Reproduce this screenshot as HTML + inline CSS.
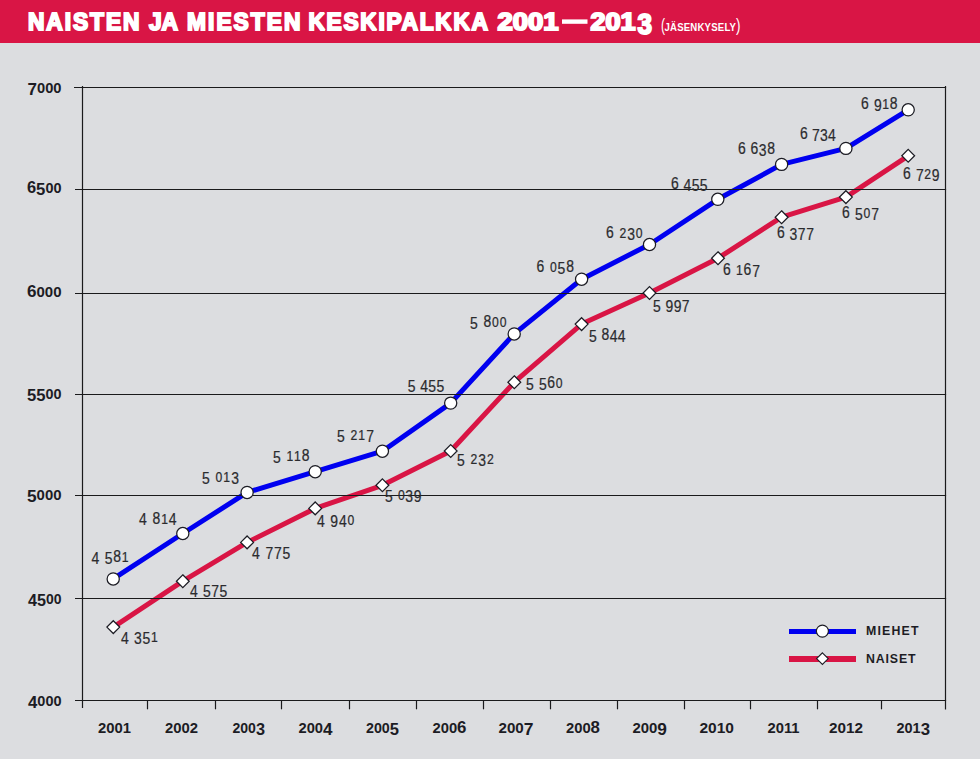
<!DOCTYPE html><html><head><meta charset="utf-8"><style>
html,body{margin:0;padding:0;width:980px;height:759px;overflow:hidden;background:#dcdde0;}
svg{position:absolute;left:0;top:0;}text{font-family:"Liberation Sans",sans-serif;}
</style></head><body>
<svg width="980" height="759" viewBox="0 0 980 759">
<rect x="0" y="0" width="980" height="43" fill="#d91545"/>
<line x1="562" y1="21.6" x2="587.5" y2="21.6" stroke="#fff" stroke-width="4.4"/>
<polyline fill="none" stroke="#d91545" stroke-width="5" stroke-linejoin="round" points="113.3,627.1 182.8,581.2 247.1,542.4 315.2,508.4 382.4,485.3 450.7,451.0 514.3,382.2 581.6,324.1 649.5,293.0 718.0,258.2 781.6,217.2 845.9,197.1 908.2,155.8"/>
<polyline fill="none" stroke="#0000f0" stroke-width="5" stroke-linejoin="round" points="113.2,578.9 182.8,533.5 247.1,492.4 315.2,471.7 382.4,451.2 450.7,403.1 514.2,333.9 581.6,279.2 649.5,244.5 717.8,199.3 781.6,164.4 845.9,148.4 908.2,109.8"/>
<line x1="74.0" y1="87.5" x2="946.1" y2="87.5" stroke="#1a1a1c" stroke-width="1.2"/>
<line x1="75.0" y1="189.5" x2="946.1" y2="189.5" stroke="#1a1a1c" stroke-width="1.2"/>
<line x1="75.0" y1="293.5" x2="946.1" y2="293.5" stroke="#1a1a1c" stroke-width="1.2"/>
<line x1="75.0" y1="394.5" x2="946.1" y2="394.5" stroke="#1a1a1c" stroke-width="1.2"/>
<line x1="75.0" y1="495.5" x2="946.1" y2="495.5" stroke="#1a1a1c" stroke-width="1.2"/>
<line x1="75.0" y1="598.5" x2="946.1" y2="598.5" stroke="#1a1a1c" stroke-width="1.2"/>
<line x1="75.0" y1="700.5" x2="946.1" y2="700.5" stroke="#1a1a1c" stroke-width="1.2"/>
<line x1="82.5" y1="86" x2="82.5" y2="708" stroke="#1a1a1c" stroke-width="1.2"/>
<line x1="945.5" y1="86" x2="945.5" y2="709.5" stroke="#1a1a1c" stroke-width="1.2"/>
<line x1="147.5" y1="700" x2="147.5" y2="709.3" stroke="#1a1a1c" stroke-width="1.2"/>
<line x1="215.5" y1="700" x2="215.5" y2="709.3" stroke="#1a1a1c" stroke-width="1.2"/>
<line x1="281.5" y1="700" x2="281.5" y2="709.3" stroke="#1a1a1c" stroke-width="1.2"/>
<line x1="349.5" y1="700" x2="349.5" y2="709.3" stroke="#1a1a1c" stroke-width="1.2"/>
<line x1="416.5" y1="700" x2="416.5" y2="709.3" stroke="#1a1a1c" stroke-width="1.2"/>
<line x1="483.5" y1="700" x2="483.5" y2="709.3" stroke="#1a1a1c" stroke-width="1.2"/>
<line x1="550.5" y1="700" x2="550.5" y2="709.3" stroke="#1a1a1c" stroke-width="1.2"/>
<line x1="617.5" y1="700" x2="617.5" y2="709.3" stroke="#1a1a1c" stroke-width="1.2"/>
<line x1="684.5" y1="700" x2="684.5" y2="709.3" stroke="#1a1a1c" stroke-width="1.2"/>
<line x1="750.5" y1="700" x2="750.5" y2="709.3" stroke="#1a1a1c" stroke-width="1.2"/>
<line x1="817.5" y1="700" x2="817.5" y2="709.3" stroke="#1a1a1c" stroke-width="1.2"/>
<line x1="881.5" y1="700" x2="881.5" y2="709.3" stroke="#1a1a1c" stroke-width="1.2"/>
<circle cx="113.2" cy="578.9" r="6.1" fill="#fff" stroke="#1c1c24" stroke-width="1.25"/>
<circle cx="182.8" cy="533.5" r="6.1" fill="#fff" stroke="#1c1c24" stroke-width="1.25"/>
<circle cx="247.1" cy="492.4" r="6.1" fill="#fff" stroke="#1c1c24" stroke-width="1.25"/>
<circle cx="315.2" cy="471.7" r="6.1" fill="#fff" stroke="#1c1c24" stroke-width="1.25"/>
<circle cx="382.4" cy="451.2" r="6.1" fill="#fff" stroke="#1c1c24" stroke-width="1.25"/>
<circle cx="450.7" cy="403.1" r="6.1" fill="#fff" stroke="#1c1c24" stroke-width="1.25"/>
<circle cx="514.2" cy="333.9" r="6.1" fill="#fff" stroke="#1c1c24" stroke-width="1.25"/>
<circle cx="581.6" cy="279.2" r="6.1" fill="#fff" stroke="#1c1c24" stroke-width="1.25"/>
<circle cx="649.5" cy="244.5" r="6.1" fill="#fff" stroke="#1c1c24" stroke-width="1.25"/>
<circle cx="717.8" cy="199.3" r="6.1" fill="#fff" stroke="#1c1c24" stroke-width="1.25"/>
<circle cx="781.6" cy="164.4" r="6.1" fill="#fff" stroke="#1c1c24" stroke-width="1.25"/>
<circle cx="845.9" cy="148.4" r="6.1" fill="#fff" stroke="#1c1c24" stroke-width="1.25"/>
<circle cx="908.2" cy="109.8" r="6.1" fill="#fff" stroke="#1c1c24" stroke-width="1.25"/>
<path d="M113.3 620.7L119.7 627.1L113.3 633.5L106.9 627.1Z" fill="#fff" stroke="#1c1c24" stroke-width="1.25"/>
<path d="M182.8 574.8L189.2 581.2L182.8 587.6L176.4 581.2Z" fill="#fff" stroke="#1c1c24" stroke-width="1.25"/>
<path d="M247.1 536.0L253.5 542.4L247.1 548.8L240.7 542.4Z" fill="#fff" stroke="#1c1c24" stroke-width="1.25"/>
<path d="M315.2 502.0L321.6 508.4L315.2 514.8L308.8 508.4Z" fill="#fff" stroke="#1c1c24" stroke-width="1.25"/>
<path d="M382.4 478.9L388.8 485.3L382.4 491.7L376.0 485.3Z" fill="#fff" stroke="#1c1c24" stroke-width="1.25"/>
<path d="M450.7 444.6L457.1 451.0L450.7 457.4L444.3 451.0Z" fill="#fff" stroke="#1c1c24" stroke-width="1.25"/>
<path d="M514.3 375.8L520.7 382.2L514.3 388.6L507.9 382.2Z" fill="#fff" stroke="#1c1c24" stroke-width="1.25"/>
<path d="M581.6 317.7L588.0 324.1L581.6 330.5L575.2 324.1Z" fill="#fff" stroke="#1c1c24" stroke-width="1.25"/>
<path d="M649.5 286.6L655.9 293.0L649.5 299.4L643.1 293.0Z" fill="#fff" stroke="#1c1c24" stroke-width="1.25"/>
<path d="M718.0 251.8L724.4 258.2L718.0 264.6L711.6 258.2Z" fill="#fff" stroke="#1c1c24" stroke-width="1.25"/>
<path d="M781.6 210.8L788.0 217.2L781.6 223.6L775.2 217.2Z" fill="#fff" stroke="#1c1c24" stroke-width="1.25"/>
<path d="M845.9 190.7L852.3 197.1L845.9 203.5L839.5 197.1Z" fill="#fff" stroke="#1c1c24" stroke-width="1.25"/>
<path d="M908.2 149.4L914.6 155.8L908.2 162.2L901.8 155.8Z" fill="#fff" stroke="#1c1c24" stroke-width="1.25"/>
<line x1="789" y1="631.5" x2="856" y2="631.5" stroke="#0000f0" stroke-width="5"/>
<circle cx="822.4" cy="631.1" r="6.0" fill="#fff" stroke="#1c1c24" stroke-width="1.1"/>
<line x1="789" y1="659" x2="856" y2="659" stroke="#d91545" stroke-width="6"/>
<path d="M822.4 652.8L828.2 658.6L822.4 664.4L816.6 658.6Z" fill="#fff" stroke="#1c1c24" stroke-width="1.1"/>
<text transform="scale(0.930 1)" x="30.11" y="30.00" font-size="24.50" font-weight="bold" fill="#fff" stroke="#fff" stroke-width="2.00" stroke-linejoin="miter" stroke-miterlimit="2" textLength="119.89" lengthAdjust="spacing">NAISTEN</text>
<text transform="scale(0.930 1)" x="160.22" y="30.00" font-size="24.50" font-weight="bold" fill="#fff" stroke="#fff" stroke-width="2.00" stroke-linejoin="miter" stroke-miterlimit="2" textLength="31.18" lengthAdjust="spacing">JA</text>
<text transform="scale(0.930 1)" x="201.08" y="30.00" font-size="24.50" font-weight="bold" fill="#fff" stroke="#fff" stroke-width="2.00" stroke-linejoin="miter" stroke-miterlimit="2" textLength="122.04" lengthAdjust="spacing">MIESTEN</text>
<text transform="scale(0.930 1)" x="331.72" y="30.00" font-size="24.50" font-weight="bold" fill="#fff" stroke="#fff" stroke-width="2.00" stroke-linejoin="miter" stroke-miterlimit="2" textLength="193.01" lengthAdjust="spacing">KESKIPALKKA</text>
<text x="497.50" y="30.00" font-size="24.50" font-weight="bold" fill="#fff" stroke="#fff" stroke-width="2.00" stroke-linejoin="miter" stroke-miterlimit="2" textLength="61.00" lengthAdjust="spacingAndGlyphs">2001</text>
<text x="590.50" y="30.00" font-size="24.50" font-weight="bold" fill="#fff" stroke="#fff" stroke-width="2.00" stroke-linejoin="miter" stroke-miterlimit="2" textLength="45.00" lengthAdjust="spacingAndGlyphs">201</text>
<text x="637.50" y="34.00" font-size="29.20" font-weight="bold" fill="#fff" stroke="#fff" stroke-width="2.00" stroke-linejoin="miter" stroke-miterlimit="2" textLength="14.50" lengthAdjust="spacingAndGlyphs">3</text>
<text transform="scale(0.850 1)" x="781.76" y="30.75" font-size="11.30" font-weight="bold" fill="#fff" textLength="84.12" lengthAdjust="spacing">JÄSENKYSELY</text>
<text x="661.00" y="31.00" font-size="18.00" font-weight="normal" fill="#fff" textLength="4.00" lengthAdjust="spacingAndGlyphs">(</text>
<text x="736.00" y="31.00" font-size="18.00" font-weight="normal" fill="#fff" textLength="4.50" lengthAdjust="spacingAndGlyphs">)</text>
<text transform="scale(0.870 1)" x="105.29" y="561.90" font-size="16.00" font-weight="normal" fill="#2b2b2e" stroke="#2b2b2e" stroke-width="0.22" stroke-linejoin="miter" stroke-miterlimit="2" textLength="42.53" lengthAdjust="spacing"><tspan dy="1.84">4</tspan><tspan dy="-1.84"> </tspan><tspan dy="1.84">5</tspan><tspan dy="-1.84">8</tspan><tspan font-size="14.00">1</tspan></text>
<text transform="scale(0.870 1)" x="159.89" y="523.60" font-size="16.00" font-weight="normal" fill="#2b2b2e" stroke="#2b2b2e" stroke-width="0.22" stroke-linejoin="miter" stroke-miterlimit="2" textLength="43.10" lengthAdjust="spacing"><tspan dy="1.84">4</tspan><tspan dy="-1.84"> </tspan>8<tspan font-size="14.00">1</tspan><tspan dy="1.84">4</tspan></text>
<text transform="scale(0.870 1)" x="232.07" y="481.90" font-size="16.00" font-weight="normal" fill="#2b2b2e" stroke="#2b2b2e" stroke-width="0.22" stroke-linejoin="miter" stroke-miterlimit="2" textLength="42.53" lengthAdjust="spacing"><tspan dy="1.84">5</tspan><tspan dy="-1.84"> </tspan><tspan font-size="14.00">0</tspan><tspan font-size="14.00">1</tspan><tspan dy="1.84">3</tspan></text>
<text transform="scale(0.870 1)" x="313.68" y="460.90" font-size="16.00" font-weight="normal" fill="#2b2b2e" stroke="#2b2b2e" stroke-width="0.22" stroke-linejoin="miter" stroke-miterlimit="2" textLength="42.18" lengthAdjust="spacing"><tspan dy="1.84">5</tspan><tspan dy="-1.84"> </tspan><tspan font-size="14.00">1</tspan><tspan font-size="14.00">1</tspan>8</text>
<text transform="scale(0.870 1)" x="387.24" y="439.90" font-size="16.00" font-weight="normal" fill="#2b2b2e" stroke="#2b2b2e" stroke-width="0.22" stroke-linejoin="miter" stroke-miterlimit="2" textLength="42.53" lengthAdjust="spacing"><tspan dy="1.84">5</tspan><tspan dy="-1.84"> </tspan><tspan font-size="14.00">2</tspan><tspan font-size="14.00">1</tspan><tspan dy="1.84">7</tspan></text>
<text transform="scale(0.870 1)" x="468.74" y="389.90" font-size="16.00" font-weight="normal" fill="#2b2b2e" stroke="#2b2b2e" stroke-width="0.22" stroke-linejoin="miter" stroke-miterlimit="2" textLength="41.84" lengthAdjust="spacing"><tspan dy="1.84">5</tspan><tspan dy="-1.84"> </tspan><tspan dy="1.84">4</tspan>55</text>
<text transform="scale(0.870 1)" x="540.11" y="326.90" font-size="16.00" font-weight="normal" fill="#2b2b2e" stroke="#2b2b2e" stroke-width="0.22" stroke-linejoin="miter" stroke-miterlimit="2" textLength="42.18" lengthAdjust="spacing"><tspan dy="1.84">5</tspan><tspan dy="-1.84"> </tspan>8<tspan font-size="14.00">0</tspan><tspan font-size="14.00">0</tspan></text>
<text transform="scale(0.870 1)" x="616.78" y="271.90" font-size="16.00" font-weight="normal" fill="#2b2b2e" stroke="#2b2b2e" stroke-width="0.22" stroke-linejoin="miter" stroke-miterlimit="2" textLength="42.87" lengthAdjust="spacing">6 <tspan font-size="14.00">0</tspan><tspan dy="1.84">5</tspan><tspan dy="-1.84">8</tspan></text>
<text transform="scale(0.870 1)" x="696.44" y="237.90" font-size="16.00" font-weight="normal" fill="#2b2b2e" stroke="#2b2b2e" stroke-width="0.22" stroke-linejoin="miter" stroke-miterlimit="2" textLength="42.18" lengthAdjust="spacing">6 <tspan font-size="14.00">2</tspan><tspan dy="1.84">3</tspan><tspan dy="-1.84" font-size="14.00">0</tspan></text>
<text transform="scale(0.870 1)" x="771.15" y="188.90" font-size="16.00" font-weight="normal" fill="#2b2b2e" stroke="#2b2b2e" stroke-width="0.22" stroke-linejoin="miter" stroke-miterlimit="2" textLength="42.18" lengthAdjust="spacing">6 <tspan dy="1.84">4</tspan>55</text>
<text transform="scale(0.870 1)" x="848.16" y="153.70" font-size="16.00" font-weight="normal" fill="#2b2b2e" stroke="#2b2b2e" stroke-width="0.22" stroke-linejoin="miter" stroke-miterlimit="2" textLength="42.53" lengthAdjust="spacing">6 6<tspan dy="1.84">3</tspan><tspan dy="-1.84">8</tspan></text>
<text transform="scale(0.870 1)" x="919.43" y="138.90" font-size="16.00" font-weight="normal" fill="#2b2b2e" stroke="#2b2b2e" stroke-width="0.22" stroke-linejoin="miter" stroke-miterlimit="2" textLength="41.26" lengthAdjust="spacing">6 <tspan dy="1.84">7</tspan>34</text>
<text transform="scale(0.870 1)" x="989.54" y="108.90" font-size="16.00" font-weight="normal" fill="#2b2b2e" stroke="#2b2b2e" stroke-width="0.22" stroke-linejoin="miter" stroke-miterlimit="2" textLength="42.18" lengthAdjust="spacing">6 <tspan dy="1.84">9</tspan><tspan dy="-1.84" font-size="14.00">1</tspan>8</text>
<text transform="scale(0.870 1)" x="139.20" y="641.90" font-size="16.00" font-weight="normal" fill="#2b2b2e" stroke="#2b2b2e" stroke-width="0.22" stroke-linejoin="miter" stroke-miterlimit="2" textLength="42.18" lengthAdjust="spacing"><tspan dy="1.84">4</tspan><tspan dy="-1.84"> </tspan><tspan dy="1.84">3</tspan>5<tspan dy="-1.84" font-size="14.00">1</tspan></text>
<text transform="scale(0.870 1)" x="218.51" y="594.90" font-size="16.00" font-weight="normal" fill="#2b2b2e" stroke="#2b2b2e" stroke-width="0.22" stroke-linejoin="miter" stroke-miterlimit="2" textLength="42.76" lengthAdjust="spacing"><tspan dy="1.84">4</tspan><tspan dy="-1.84"> </tspan><tspan dy="1.84">5</tspan>75</text>
<text transform="scale(0.870 1)" x="289.77" y="556.90" font-size="16.00" font-weight="normal" fill="#2b2b2e" stroke="#2b2b2e" stroke-width="0.22" stroke-linejoin="miter" stroke-miterlimit="2" textLength="43.91" lengthAdjust="spacing"><tspan dy="1.84">4</tspan><tspan dy="-1.84"> </tspan><tspan dy="1.84">7</tspan>75</text>
<text transform="scale(0.870 1)" x="364.48" y="525.10" font-size="16.00" font-weight="normal" fill="#2b2b2e" stroke="#2b2b2e" stroke-width="0.22" stroke-linejoin="miter" stroke-miterlimit="2" textLength="42.76" lengthAdjust="spacing"><tspan dy="1.84">4</tspan><tspan dy="-1.84"> </tspan><tspan dy="1.84">9</tspan>4<tspan dy="-1.84" font-size="14.00">0</tspan></text>
<text transform="scale(0.870 1)" x="442.53" y="500.50" font-size="16.00" font-weight="normal" fill="#2b2b2e" stroke="#2b2b2e" stroke-width="0.22" stroke-linejoin="miter" stroke-miterlimit="2" textLength="41.95" lengthAdjust="spacing"><tspan dy="1.84">5</tspan><tspan dy="-1.84"> </tspan><tspan font-size="14.00">0</tspan><tspan dy="1.84">3</tspan>9</text>
<text transform="scale(0.870 1)" x="525.17" y="463.90" font-size="16.00" font-weight="normal" fill="#2b2b2e" stroke="#2b2b2e" stroke-width="0.22" stroke-linejoin="miter" stroke-miterlimit="2" textLength="42.53" lengthAdjust="spacing"><tspan dy="1.84">5</tspan><tspan dy="-1.84"> </tspan><tspan font-size="14.00">2</tspan><tspan dy="1.84">3</tspan><tspan dy="-1.84" font-size="14.00">2</tspan></text>
<text transform="scale(0.870 1)" x="604.48" y="387.90" font-size="16.00" font-weight="normal" fill="#2b2b2e" stroke="#2b2b2e" stroke-width="0.22" stroke-linejoin="miter" stroke-miterlimit="2" textLength="42.18" lengthAdjust="spacing"><tspan dy="1.84">5</tspan><tspan dy="-1.84"> </tspan><tspan dy="1.84">5</tspan><tspan dy="-1.84">6</tspan><tspan font-size="14.00">0</tspan></text>
<text transform="scale(0.870 1)" x="676.90" y="339.90" font-size="16.00" font-weight="normal" fill="#2b2b2e" stroke="#2b2b2e" stroke-width="0.22" stroke-linejoin="miter" stroke-miterlimit="2" textLength="42.18" lengthAdjust="spacing"><tspan dy="1.84">5</tspan><tspan dy="-1.84"> </tspan>8<tspan dy="1.84">4</tspan>4</text>
<text transform="scale(0.870 1)" x="750.46" y="309.90" font-size="16.00" font-weight="normal" fill="#2b2b2e" stroke="#2b2b2e" stroke-width="0.22" stroke-linejoin="miter" stroke-miterlimit="2" textLength="42.18" lengthAdjust="spacing"><tspan dy="1.84">5</tspan><tspan dy="-1.84"> </tspan><tspan dy="1.84">9</tspan>97</text>
<text transform="scale(0.870 1)" x="830.92" y="275.20" font-size="16.00" font-weight="normal" fill="#2b2b2e" stroke="#2b2b2e" stroke-width="0.22" stroke-linejoin="miter" stroke-miterlimit="2" textLength="42.53" lengthAdjust="spacing">6 <tspan font-size="14.00">1</tspan>6<tspan dy="1.84">7</tspan></text>
<text transform="scale(0.870 1)" x="892.99" y="237.90" font-size="16.00" font-weight="normal" fill="#2b2b2e" stroke="#2b2b2e" stroke-width="0.22" stroke-linejoin="miter" stroke-miterlimit="2" textLength="42.53" lengthAdjust="spacing">6 <tspan dy="1.84">3</tspan>77</text>
<text transform="scale(0.870 1)" x="967.70" y="217.90" font-size="16.00" font-weight="normal" fill="#2b2b2e" stroke="#2b2b2e" stroke-width="0.22" stroke-linejoin="miter" stroke-miterlimit="2" textLength="42.53" lengthAdjust="spacing">6 <tspan dy="1.84">5</tspan><tspan dy="-1.84" font-size="14.00">0</tspan><tspan dy="1.84">7</tspan></text>
<text transform="scale(0.870 1)" x="1037.82" y="178.90" font-size="16.00" font-weight="normal" fill="#2b2b2e" stroke="#2b2b2e" stroke-width="0.22" stroke-linejoin="miter" stroke-miterlimit="2" textLength="42.18" lengthAdjust="spacing">6 <tspan dy="1.84">7</tspan><tspan dy="-1.84" font-size="14.00">2</tspan><tspan dy="1.84">9</tspan></text>
<text x="27.50" y="92.50" font-size="14.00" font-weight="bold" fill="#1c1c24" textLength="34.00" lengthAdjust="spacingAndGlyphs"><tspan dy="2.24" font-size="16.24">7</tspan><tspan dy="-2.24">0</tspan>00</text>
<text x="27.00" y="192.50" font-size="14.00" font-weight="bold" fill="#1c1c24" textLength="34.50" lengthAdjust="spacingAndGlyphs"><tspan font-size="15.96">6</tspan><tspan dy="2.24" font-size="16.24">5</tspan><tspan dy="-2.24">0</tspan>0</text>
<text x="27.00" y="297.00" font-size="14.00" font-weight="bold" fill="#1c1c24" textLength="34.50" lengthAdjust="spacingAndGlyphs"><tspan font-size="15.96">6</tspan>000</text>
<text x="27.00" y="399.00" font-size="14.00" font-weight="bold" fill="#1c1c24" textLength="34.50" lengthAdjust="spacingAndGlyphs"><tspan dy="2.24" font-size="16.24">5</tspan><tspan font-size="16.24">5</tspan><tspan dy="-2.24">0</tspan>0</text>
<text x="27.00" y="500.00" font-size="14.00" font-weight="bold" fill="#1c1c24" textLength="34.50" lengthAdjust="spacingAndGlyphs"><tspan dy="2.24" font-size="16.24">5</tspan><tspan dy="-2.24">0</tspan>00</text>
<text x="28.00" y="603.50" font-size="14.00" font-weight="bold" fill="#1c1c24" textLength="33.50" lengthAdjust="spacingAndGlyphs"><tspan dy="2.24" font-size="16.24">4</tspan><tspan font-size="16.24">5</tspan><tspan dy="-2.24">0</tspan>0</text>
<text x="28.00" y="705.50" font-size="14.00" font-weight="bold" fill="#1c1c24" textLength="33.50" lengthAdjust="spacingAndGlyphs"><tspan dy="2.24" font-size="16.24">4</tspan><tspan dy="-2.24">0</tspan>00</text>
<text x="98.00" y="732.50" font-size="14.00" font-weight="bold" fill="#1c1c24" textLength="33.00" lengthAdjust="spacingAndGlyphs">2001</text>
<text x="165.00" y="732.50" font-size="14.00" font-weight="bold" fill="#1c1c24" textLength="33.00" lengthAdjust="spacingAndGlyphs">2002</text>
<text x="232.50" y="732.50" font-size="14.00" font-weight="bold" fill="#1c1c24" textLength="32.50" lengthAdjust="spacingAndGlyphs">200<tspan dy="2.24" font-size="16.24">3</tspan></text>
<text x="298.50" y="732.50" font-size="14.00" font-weight="bold" fill="#1c1c24" textLength="34.00" lengthAdjust="spacingAndGlyphs">200<tspan dy="2.24" font-size="16.24">4</tspan></text>
<text x="366.00" y="732.50" font-size="14.00" font-weight="bold" fill="#1c1c24" textLength="33.00" lengthAdjust="spacingAndGlyphs">200<tspan dy="2.24" font-size="16.24">5</tspan></text>
<text x="432.50" y="732.50" font-size="14.00" font-weight="bold" fill="#1c1c24" textLength="34.00" lengthAdjust="spacingAndGlyphs">200<tspan font-size="15.96">6</tspan></text>
<text x="498.50" y="732.50" font-size="14.00" font-weight="bold" fill="#1c1c24" textLength="35.00" lengthAdjust="spacingAndGlyphs">200<tspan dy="2.24" font-size="16.24">7</tspan></text>
<text x="566.00" y="732.50" font-size="14.00" font-weight="bold" fill="#1c1c24" textLength="34.00" lengthAdjust="spacingAndGlyphs">200<tspan font-size="15.96">8</tspan></text>
<text x="632.50" y="732.50" font-size="14.00" font-weight="bold" fill="#1c1c24" textLength="34.50" lengthAdjust="spacingAndGlyphs">200<tspan dy="2.24" font-size="16.24">9</tspan></text>
<text x="699.50" y="732.50" font-size="14.00" font-weight="bold" fill="#1c1c24" textLength="34.50" lengthAdjust="spacingAndGlyphs">2010</text>
<text x="767.50" y="732.50" font-size="14.00" font-weight="bold" fill="#1c1c24" textLength="32.00" lengthAdjust="spacingAndGlyphs">2011</text>
<text x="829.00" y="732.50" font-size="14.00" font-weight="bold" fill="#1c1c24" textLength="34.00" lengthAdjust="spacingAndGlyphs">2012</text>
<text x="896.50" y="732.50" font-size="14.00" font-weight="bold" fill="#1c1c24" textLength="33.50" lengthAdjust="spacingAndGlyphs">201<tspan dy="2.24" font-size="16.24">3</tspan></text>
<text transform="scale(0.950 1)" x="911.58" y="635.50" font-size="13.00" font-weight="bold" fill="#1c1c24" textLength="55.26" lengthAdjust="spacing">MIEHET</text>
<text transform="scale(0.950 1)" x="911.58" y="663.00" font-size="13.00" font-weight="bold" fill="#1c1c24" textLength="52.11" lengthAdjust="spacing">NAISET</text>
</svg></body></html>
